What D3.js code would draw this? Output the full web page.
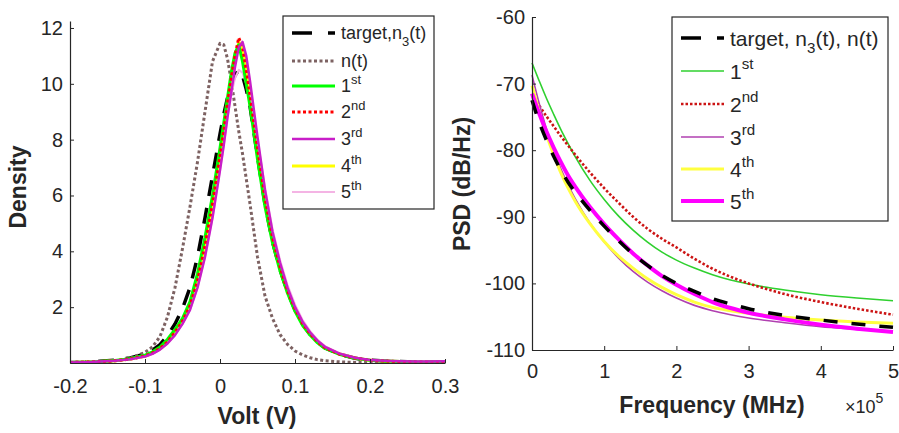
<!DOCTYPE html>
<html>
<head>
<meta charset="utf-8">
<script src="https://cdn.jsdelivr.net/npm/d3@7"></script>
<style>
  html, body { margin: 0; padding: 0; background: #fff; }
  svg text { font-family: "Liberation Sans", Arial, sans-serif; fill: #262626; }
</style>
</head>
<body>
<svg id="chart" width="899" height="433"></svg>
<script>
// ---- left panel: densities ----
const voltX = [-0.2, -0.18, -0.16, -0.14, -0.12, -0.1, -0.09, -0.08, -0.07, -0.06,
  -0.05, -0.04, -0.03, -0.02, -0.01, 0, 0.005, 0.01, 0.015, 0.02,
  0.025, 0.03, 0.035, 0.04, 0.05, 0.06, 0.07, 0.08, 0.09, 0.1,
  0.11, 0.12, 0.13, 0.14, 0.16, 0.18, 0.2, 0.22, 0.24, 0.26, 0.28, 0.3];

const densTarget = [0.02, 0.03, 0.06, 0.1, 0.18, 0.32, 0.46, 0.66, 0.98, 1.4,
  1.95, 2.7, 3.8, 5.2, 6.7, 8.2, 8.9, 9.5, 10.0, 10.3,
  10.5, 10.3, 9.8, 9.2, 7.4, 5.7, 4.35, 3.35, 2.55, 1.9,
  1.4, 1.03, 0.75, 0.54, 0.31, 0.17, 0.1, 0.07, 0.05, 0.04, 0.04, 0.04];
const densNoise = [0.02, 0.03, 0.05, 0.08, 0.17, 0.38, 0.58, 0.95, 1.65, 2.7,
  4.1, 5.6, 7.2, 9.0, 10.8, 11.45, 11.4, 10.9, 10.1, 9.2,
  8.3, 7.5, 6.6, 5.7, 3.8, 2.4, 1.6, 1.02, 0.67, 0.43,
  0.29, 0.19, 0.12, 0.08, 0.04, 0.02, 0.015, 0.01, 0.01, 0.01, 0.01, 0.01];
const dens1st = [0.02, 0.03, 0.05, 0.09, 0.15, 0.28, 0.4, 0.57, 0.85, 1.2,
  1.6, 2.2, 3.2, 4.5, 6.0, 7.7, 8.6, 9.5, 10.4, 11.1,
  11.4, 10.8, 10.0, 9.2, 7.3, 5.6, 4.3, 3.3, 2.5, 1.85,
  1.35, 1.0, 0.72, 0.52, 0.3, 0.17, 0.1, 0.07, 0.05, 0.04, 0.03, 0.03];
const dens2nd = [0.02, 0.03, 0.05, 0.08, 0.14, 0.25, 0.36, 0.52, 0.76, 1.1,
  1.5, 2.05, 2.95, 4.2, 5.7, 7.4, 8.3, 9.3, 10.2, 11.0,
  11.65, 11.3, 10.5, 9.6, 7.7, 5.9, 4.5, 3.45, 2.6, 1.95,
  1.42, 1.05, 0.76, 0.55, 0.31, 0.18, 0.1, 0.07, 0.05, 0.04, 0.03, 0.03];
const dens3rd = [0.02, 0.03, 0.05, 0.08, 0.13, 0.23, 0.33, 0.48, 0.7, 1.0,
  1.4, 1.9, 2.7, 3.8, 5.2, 6.9, 7.8, 8.8, 9.7, 10.6,
  11.3, 11.5, 11.0, 10.1, 8.1, 6.2, 4.7, 3.6, 2.7, 2.0,
  1.48, 1.1, 0.8, 0.58, 0.33, 0.19, 0.11, 0.08, 0.06, 0.05, 0.05, 0.06];
const dens4th = [0.02, 0.03, 0.05, 0.08, 0.14, 0.24, 0.35, 0.5, 0.73, 1.05,
  1.45, 2.0, 2.85, 4.0, 5.5, 7.2, 8.1, 9.1, 10.0, 10.8,
  11.5, 11.3, 10.6, 9.7, 7.8, 6.0, 4.6, 3.5, 2.65, 1.98,
  1.45, 1.07, 0.78, 0.56, 0.32, 0.18, 0.1, 0.07, 0.05, 0.04, 0.03, 0.03];
const dens5th = [0.02, 0.03, 0.05, 0.08, 0.13, 0.23, 0.33, 0.48, 0.7, 1.0,
  1.4, 1.9, 2.7, 3.8, 5.2, 6.9, 7.8, 8.8, 9.6, 10.2,
  10.5, 10.4, 10.0, 9.5, 8.0, 6.3, 4.8, 3.7, 2.8, 2.1,
  1.55, 1.15, 0.84, 0.6, 0.34, 0.19, 0.11, 0.08, 0.06, 0.05, 0.05, 0.05];

const voltTicks = [-0.2, -0.1, 0, 0.1, 0.2, 0.3];
const densTicks = [2, 4, 6, 8, 10, 12];

// ---- right panel: PSD ----
const freqX = [0, 0.1, 0.2, 0.3, 0.4, 0.5, 0.6, 0.8, 1.0, 1.2, 1.4,
  1.6, 1.8, 2.0, 2.25, 2.5, 2.75, 3.0, 3.5, 4.0, 4.5, 5.0];

const psdTarget = [-72.5, -75.8, -78.5, -80.9, -83.0, -84.8, -86.3, -89.0, -91.4, -93.6, -95.6,
  -97.3, -98.8, -100.0, -101.2, -102.3, -103.1, -103.8, -104.8, -105.5, -106.1, -106.6];
const psd1st = [-66.9, -69.6, -72.2, -74.6, -76.9, -79.0, -81.0, -84.5, -87.4, -89.9, -92.0,
  -93.8, -95.3, -96.5, -97.7, -98.7, -99.5, -100.1, -101.0, -101.7, -102.2, -102.6];
const psd2nd = [-71.6, -73.3, -74.9, -76.4, -77.9, -79.3, -80.7, -83.3, -85.7, -87.9, -90.0,
  -91.8, -93.3, -94.6, -96.3, -97.8, -99.0, -100.0, -101.6, -102.8, -103.8, -104.7];
const psd3rd = [-68.7, -73.0, -76.8, -80.0, -82.8, -85.2, -87.3, -90.9, -93.8, -96.2, -98.2,
  -99.8, -101.1, -102.2, -103.3, -104.1, -104.7, -105.2, -105.9, -106.5, -106.9, -107.3];
const psd4th = [-70.3, -74.2, -77.7, -80.7, -83.4, -85.7, -87.7, -91.0, -93.7, -95.9, -97.7,
  -99.3, -100.6, -101.7, -102.8, -103.6, -104.1, -104.5, -105.1, -105.5, -105.8, -106.0];
const psd5th = [-71.5, -74.5, -77.2, -79.6, -81.8, -83.8, -85.5, -88.5, -91.1, -93.4, -95.5,
  -97.3, -98.9, -100.2, -101.6, -102.8, -103.7, -104.4, -105.4, -106.2, -106.8, -107.3];

const freqTicks = [0, 1, 2, 3, 4, 5];
const psdTicks = [-110, -100, -90, -80, -70, -60];

// legend texts: [text, 'sub'|'sup'|undefined]
const leftLabels = [
  [['target,n'], ['3', 'sub'], ['(t)']],
  [['n(t)']],
  [['1'], ['st', 'sup']],
  [['2'], ['nd', 'sup']],
  [['3'], ['rd', 'sup']],
  [['4'], ['th', 'sup']],
  [['5'], ['th', 'sup']]
];
const rightLabels = [
  [['target, n'], ['3', 'sub'], ['(t), n(t)']],
  [['1'], ['st', 'sup']],
  [['2'], ['nd', 'sup']],
  [['3'], ['rd', 'sup']],
  [['4'], ['th', 'sup']],
  [['5'], ['th', 'sup']]
];

const svg = d3.select('#chart');
const ink = '#262626';

// styles, in legend order
const leftStyles = [
  { y: densTarget, color: '#000', width: 3.5, dash: '16,12', z: 0 },
  { y: densNoise, color: '#7d6262', width: 3, dash: '3,2.5', z: 1 },
  { y: dens1st, color: '#00ff00', width: 3, z: 4 },
  { y: dens2nd, color: '#ff0000', width: 3, dash: '3,2.5', z: 5 },
  { y: dens3rd, color: '#c81ec8', width: 2.5, z: 6 },
  { y: dens4th, color: '#ffff00', width: 3, z: 2 },
  { y: dens5th, color: '#f4b4e4', width: 2, z: 3 }
];
const rightStyles = [
  { y: psdTarget, color: '#000', width: 3.5, dash: '14,14', z: 5 },
  { y: psd1st, color: '#2fd02f', width: 1.6, z: 0 },
  { y: psd2nd, color: '#cc1414', width: 2.6, dash: '2.5,2', z: 1 },
  { y: psd3rd, color: '#b040b0', width: 1.6, z: 2 },
  { y: psd4th, color: '#ffff40', width: 3, z: 3 },
  { y: psd5th, color: '#ff00ff', width: 4, z: 4 }
];

function drawAxes(x, y, xTicks, yTicks, padX) {
  const gx = svg.append('g')
    .attr('transform', `translate(0,${y.range()[0]})`)
    .call(d3.axisBottom(x).tickValues(xTicks).tickFormat(d => String(d))
      .tickSizeInner(-4).tickSizeOuter(0).tickPadding(padX));
  const gy = svg.append('g')
    .attr('transform', `translate(${x.range()[0]},0)`)
    .call(d3.axisLeft(y).tickValues(yTicks).tickFormat(d => String(d))
      .tickSizeInner(-4).tickSizeOuter(0).tickPadding(7));
  [gx, gy].forEach(g => {
    g.select('.domain').attr('stroke', ink).attr('stroke-width', 1.2);
    g.selectAll('.tick line').attr('stroke', ink);
    g.selectAll('.tick text').attr('font-size', 20)
      .attr('font-family', '"Liberation Sans", Arial, sans-serif').attr('fill', ink);
  });
}

function richText(sel, parts, size) {
  let shift = 0;
  parts.forEach(([t, kind]) => {
    const want = kind === 'sub' ? size * 0.35 : kind === 'sup' ? -size * 0.45 : 0;
    sel.append('tspan')
      .attr('dy', want - shift)
      .attr('font-size', kind ? size * 0.72 : size)
      .text(t);
    shift = want;
  });
}

function drawLegend(box, labels, styles, rowY, size, legendDash) {
  const g = svg.append('g');
  g.append('rect')
    .attr('x', box.x).attr('y', box.y)
    .attr('width', box.w).attr('height', box.h)
    .attr('fill', '#fff').attr('stroke', ink).attr('stroke-width', 1.2);
  labels.forEach((parts, i) => {
    const s = styles[i];
    const yy = rowY[i];
    g.append('line')
      .attr('x1', box.x + 9).attr('x2', box.x + 52)
      .attr('y1', yy).attr('y2', yy)
      .attr('stroke', s.color).attr('stroke-width', s.width)
      .attr('stroke-dasharray', i === 0 ? legendDash : (s.dash || null));
    const t = g.append('text')
      .attr('x', box.x + 58).attr('y', yy + size * 0.36)
      .attr('font-size', size);
    richText(t, parts, size);
  });
}

function drawLines(clipId, series, line) {
  svg.append('g').attr('clip-path', `url(#${clipId})`)
    .selectAll('path').data(series.slice().sort((a, b) => a.z - b.z)).join('path')
    .attr('d', s => line(s.y))
    .attr('fill', 'none')
    .attr('stroke', s => s.color)
    .attr('stroke-width', s => s.width)
    .attr('stroke-dasharray', s => s.dash || null)
    .attr('stroke-linejoin', 'round');
}

// ---------- left plot ----------
const xL = d3.scaleLinear().domain([-0.2, 0.3]).range([70, 445]);
const yL = d3.scaleLinear().domain([0, 12.25]).range([363, 21]);

svg.append('clipPath').attr('id', 'clipL').append('rect')
  .attr('x', 68).attr('y', 18).attr('width', 380).attr('height', 346);

drawLines('clipL', leftStyles, d3.line().x((d, i) => xL(voltX[i])).y(d => yL(d)));
drawAxes(xL, yL, voltTicks, densTicks, 16);

drawLegend({ x: 283, y: 16, w: 151, h: 193 }, leftLabels, leftStyles,
  [33, 61, 86, 112, 139, 166, 192], 18, '20,16');

svg.append('text').attr('x', 257).attr('y', 424)
  .attr('text-anchor', 'middle').attr('font-size', 23).attr('font-weight', 'bold')
  .text('Volt (V)');
svg.append('text').attr('transform', 'translate(26,187) rotate(-90)')
  .attr('text-anchor', 'middle').attr('font-size', 23).attr('font-weight', 'bold')
  .text('Density');

// ---------- right plot ----------
const xR = d3.scaleLinear().domain([0, 5]).range([532, 893]);
const yR = d3.scaleLinear().domain([-110, -60]).range([350, 17]);

svg.append('clipPath').attr('id', 'clipR').append('rect')
  .attr('x', 530).attr('y', 15).attr('width', 366).attr('height', 336);

drawLines('clipR', rightStyles,
  d3.line().x((d, i) => xR(freqX[i])).y(d => yR(d)).curve(d3.curveMonotoneX));
drawAxes(xR, yR, freqTicks, psdTicks, 14);

drawLegend({ x: 672, y: 17, w: 216, h: 204 }, rightLabels, rightStyles,
  [38, 71, 104, 137, 169, 201], 21, '20,16');

svg.append('text').attr('x', 712).attr('y', 413)
  .attr('text-anchor', 'middle').attr('font-size', 23).attr('font-weight', 'bold')
  .text('Frequency (MHz)');
svg.append('text').attr('transform', 'translate(470,184) rotate(-90)')
  .attr('text-anchor', 'middle').attr('font-size', 23).attr('font-weight', 'bold')
  .text('PSD (dB/Hz)');

const expo = svg.append('text').attr('x', 845).attr('y', 413).attr('font-size', 18);
expo.append('tspan').text('\u00d710');
expo.append('tspan').attr('dy', -10).attr('font-size', 14).text('5');
</script>
</body>
</html>
